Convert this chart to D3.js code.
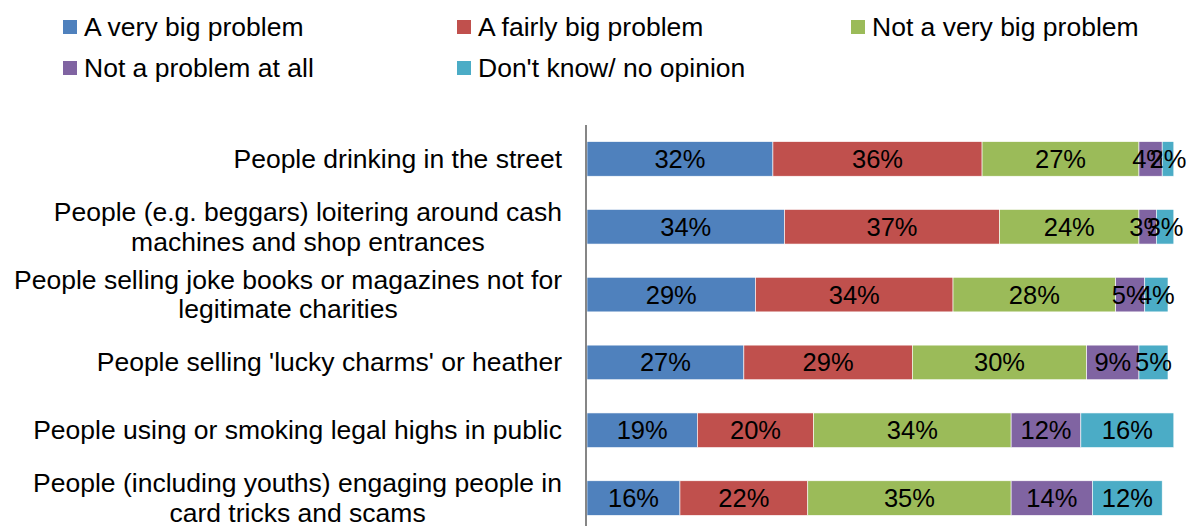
<!DOCTYPE html>
<html>
<head>
<meta charset="utf-8">
<script src="https://cdn.jsdelivr.net/npm/d3@7"></script>
<style>
  html, body { margin: 0; padding: 0; background: #fff; }
  svg { display: block; font-family: "Liberation Sans", Arial, sans-serif; }
</style>
</head>
<body>
<svg id="chart" width="1193" height="526"></svg>
<script>
// Survey categories (multi-line labels split with "\n")
const categories = [
  "People drinking in the street",
  "People (e.g. beggars) loitering around cash\nmachines and shop entrances",
  "People selling joke books or magazines not for\nlegitimate charities",
  "People selling 'lucky charms' or heather",
  "People using or smoking legal highs in public",
  "People (including youths) engaging people in\ncard tricks and scams"
];

const seriesNames = [
  "A very big problem",
  "A fairly big problem",
  "Not a very big problem",
  "Not a problem at all",
  "Don't know/ no opinion"
];

// Percent values per response, in category order
const veryBig    = [32, 34, 29, 27, 19, 16];
const fairlyBig  = [36, 37, 34, 29, 20, 22];
const notVeryBig = [27, 24, 28, 30, 34, 35];
const notAtAll   = [4, 3, 5, 9, 12, 14];
const dontKnow   = [2, 3, 4, 5, 16, 12];

const seriesValues = [veryBig, fairlyBig, notVeryBig, notAtAll, dontKnow];
const colors = ["#4F81BD", "#C0504D", "#9BBB59", "#8064A2", "#4BACC6"];

const svg = d3.select("#chart");
const textSize = 26.5;
const valueSize = 25.5;

// Build rows for d3.stack
const rows = categories.map((c, i) => {
  const r = { category: c };
  seriesNames.forEach((s, j) => { r[s] = seriesValues[j][i]; });
  return r;
});
const stacked = d3.stack().keys(seriesNames)(rows);

const x = d3.scaleLinear().domain([0, 100]).range([587, 1168]);
const y = d3.scaleBand().domain(categories).range([125, 532]).paddingInner(0.49).paddingOuter(0.245);

// Bars
const layers = svg.append("g").selectAll("g")
  .data(stacked)
  .join("g")
  .attr("fill", (d, i) => colors[i]);

layers.selectAll("rect")
  .data(d => d)
  .join("rect")
  .attr("x", d => x(d[0]))
  .attr("y", d => y(d.data.category))
  .attr("width", d => x(d[1]) - x(d[0]))
  .attr("height", y.bandwidth())
  .attr("stroke", "#ffffff")
  .attr("stroke-width", 0.6);

// Value labels centred in each segment
layers.selectAll("text")
  .data(d => d.map(p => ({ p, key: d.key })))
  .join("text")
  .attr("x", d => (x(d.p[0]) + x(d.p[1])) / 2)
  .attr("y", d => y(d.p.data.category) + y.bandwidth() / 2)
  .attr("text-anchor", "middle")
  .attr("dominant-baseline", "central")
  .attr("font-size", valueSize)
  .attr("fill", "#000")
  .text(d => d.p.data[d.key] + "%");

// Vertical category axis line
svg.append("line")
  .attr("x1", 586).attr("x2", 586)
  .attr("y1", 125).attr("y2", 532)
  .attr("stroke", "#868686")
  .attr("stroke-width", 2);

// Category labels: block right-aligned, lines centred within the block
const labelRight = 562;
const lineHeight = 29.5;
categories.forEach(c => {
  const lines = c.split("\n");
  const cy = y(c) + y.bandwidth() / 2;
  const g = svg.append("g");
  const texts = lines.map((ln, k) => g.append("text")
    .attr("y", cy + (k - (lines.length - 1) / 2) * lineHeight)
    .attr("dominant-baseline", "central")
    .attr("text-anchor", "middle")
    .attr("font-size", textSize)
    .attr("fill", "#000")
    .text(ln));
  const maxW = d3.max(texts, t => t.node().getComputedTextLength());
  texts.forEach(t => t.attr("x", labelRight - maxW / 2));
});

// Legend
const legendPos = [
  [63, 27], [457, 27], [851, 27],
  [63, 68], [457, 68]
];
const legend = svg.append("g").selectAll("g")
  .data(seriesNames)
  .join("g")
  .attr("transform", (d, i) => `translate(${legendPos[i][0]},${legendPos[i][1]})`);
legend.append("rect")
  .attr("x", 0).attr("y", -7)
  .attr("width", 14).attr("height", 14)
  .attr("fill", (d, i) => colors[i]);
legend.append("text")
  .attr("x", 21)
  .attr("y", 0)
  .attr("dominant-baseline", "central")
  .attr("font-size", textSize)
  .attr("fill", "#000")
  .text(d => d);
</script>
</body>
</html>
